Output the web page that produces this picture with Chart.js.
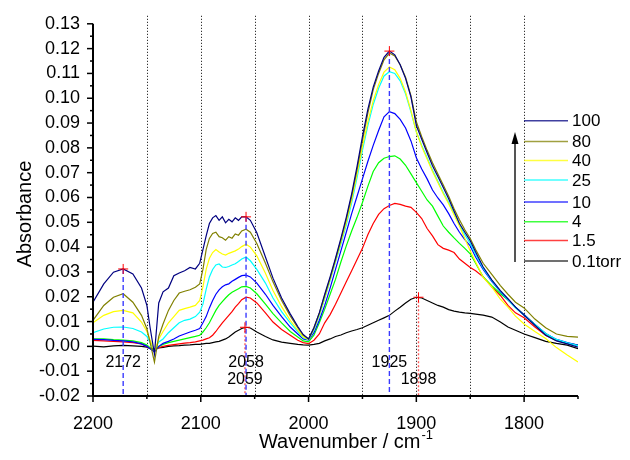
<!DOCTYPE html>
<html>
<head>
<meta charset="utf-8">
<script src="https://cdn.jsdelivr.net/npm/chart.js@4.4.1/dist/chart.umd.min.js"></script>
<style>
  html, body { margin: 0; padding: 0; background: #fff; }
  #wrap { width: 630px; height: 460px; }
</style>
</head>
<body>
<div id="wrap"><canvas id="chart" width="630" height="460"></canvas></div>
<script>
// wavenumber grid (cm-1) shared by all spectra
const wavenumbers = [2200, 2190, 2181, 2172, 2163, 2155, 2150, 2147, 2143, 2139, 2135, 2130, 2125, 2120, 2115, 2110, 2105, 2101,
  2098, 2095, 2092, 2089, 2086, 2083, 2080, 2077, 2074, 2071, 2068, 2065, 2062, 2058, 2054, 2048, 2040, 2033, 2025, 2017,
  2010, 2005, 2000, 1995, 1990, 1985, 1980, 1975, 1970, 1965, 1960, 1955, 1950, 1945, 1940, 1935, 1930, 1925, 1920, 1915,
  1910, 1905, 1900, 1895, 1890, 1885, 1880, 1875, 1870, 1865, 1860, 1855, 1850, 1845, 1838, 1830, 1822, 1815, 1808, 1800,
  1790, 1780, 1770, 1760, 1750];

const abs100 = [0.0178, 0.0252, 0.0299, 0.0312, 0.0292, 0.0235, 0.0165, 0.0075, -0.003, 0.0175, 0.022, 0.0235, 0.0285, 0.0296, 0.0305, 0.0318, 0.0312, 0.0335,
  0.039, 0.0445, 0.0495, 0.0518, 0.0527, 0.0508, 0.0522, 0.0498, 0.0512, 0.0502, 0.0518, 0.0508, 0.0522, 0.0522, 0.0508, 0.0458, 0.036, 0.0275, 0.0195, 0.0131,
  0.008, 0.0048, 0.003, 0.0075, 0.0135, 0.021, 0.028, 0.0355, 0.0435, 0.052, 0.0615, 0.0725, 0.0845, 0.0955, 0.1045, 0.111, 0.1165, 0.119, 0.1175, 0.1135,
  0.108, 0.1005, 0.089, 0.0835, 0.078, 0.0728, 0.0685, 0.064, 0.0595, 0.0545, 0.0495, 0.046, 0.0426, 0.038, 0.032, 0.0268, 0.0225, 0.0192, 0.0158, 0.0125,
  0.0085, 0.0045, 0.0022, 0.001, -0.0003];
const abs80 = [0.0105, 0.0165, 0.0198, 0.0212, 0.0178, 0.0125, 0.0071, 0.0015, -0.0063, 0.004, 0.009, 0.0145, 0.0185, 0.0215, 0.0222, 0.0228, 0.0238, 0.0252,
  0.031, 0.039, 0.0435, 0.0455, 0.046, 0.0442, 0.0438, 0.0428, 0.0442, 0.0436, 0.0453, 0.0448, 0.0465, 0.0472, 0.046, 0.0415, 0.0335, 0.026, 0.0185, 0.0123,
  0.0075, 0.0045, 0.003, 0.0075, 0.0135, 0.0205, 0.0275, 0.035, 0.0428, 0.0512, 0.0605, 0.0712, 0.083, 0.094, 0.1035, 0.11, 0.1155, 0.1182, 0.117, 0.1135,
  0.1085, 0.101, 0.0905, 0.0845, 0.079, 0.074, 0.0695, 0.065, 0.0605, 0.0555, 0.051, 0.047, 0.0435, 0.039, 0.0335, 0.029, 0.0245, 0.021, 0.0178, 0.0155,
  0.011, 0.0075, 0.005, 0.004, 0.0037];
const abs40 = [0.0095, 0.0125, 0.014, 0.0145, 0.0135, 0.0098, 0.006, 0.0025, -0.002, 0.003, 0.006, 0.0095, 0.012, 0.0145, 0.0152, 0.0158, 0.0165, 0.0185,
  0.024, 0.031, 0.0355, 0.0378, 0.039, 0.038, 0.0372, 0.0368, 0.0375, 0.038, 0.0385, 0.0392, 0.0402, 0.0412, 0.04, 0.0365, 0.0295, 0.0225, 0.016, 0.0105,
  0.0065, 0.0038, 0.0028, 0.007, 0.0128, 0.0198, 0.027, 0.0345, 0.042, 0.05, 0.059, 0.0695, 0.0805, 0.0905, 0.099, 0.1055, 0.1105, 0.1126, 0.1115, 0.108,
  0.1025, 0.095, 0.0865, 0.0805, 0.0755, 0.0705, 0.066, 0.0615, 0.0575, 0.053, 0.0485, 0.0435, 0.0385, 0.034, 0.0278, 0.024, 0.019, 0.0158, 0.0122, 0.009,
  0.006, 0.0032, -0.0005, -0.0035, -0.0063];
const abs25 = [0.0055, 0.007, 0.0077, 0.0078, 0.0072, 0.0058, 0.004, 0.0015, -0.0015, 0.0018, 0.003, 0.0055, 0.0075, 0.0095, 0.0105, 0.011, 0.012, 0.0138,
  0.017, 0.023, 0.028, 0.031, 0.0328, 0.0332, 0.032, 0.0318, 0.0322, 0.0328, 0.0333, 0.0342, 0.0352, 0.036, 0.0345, 0.031, 0.0255, 0.0195, 0.014, 0.0095,
  0.006, 0.0035, 0.0027, 0.0065, 0.0123, 0.0193, 0.0265, 0.034, 0.0412, 0.049, 0.0578, 0.068, 0.079, 0.089, 0.0975, 0.104, 0.109, 0.1107, 0.11, 0.107,
  0.1018, 0.0945, 0.0865, 0.081, 0.076, 0.071, 0.0665, 0.062, 0.058, 0.0535, 0.049, 0.045, 0.0415, 0.037, 0.0315, 0.0265, 0.0222, 0.0188, 0.0155, 0.0125,
  0.0088, 0.0052, 0.0028, 0.0014, 0.0003];
const abs10 = [0.0028, 0.0027, 0.0024, 0.0022, 0.0018, 0.001, 0.0, -0.001, -0.0022, 0.0, 0.0012, 0.002, 0.003, 0.0042, 0.005, 0.0058, 0.0065, 0.0072,
  0.0095, 0.012, 0.0155, 0.0185, 0.021, 0.0228, 0.024, 0.0248, 0.0252, 0.0262, 0.027, 0.0278, 0.0285, 0.0287, 0.028, 0.0255, 0.021, 0.0165, 0.012, 0.0078,
  0.005, 0.003, 0.0025, 0.0055, 0.0105, 0.0165, 0.0235, 0.031, 0.0385, 0.046, 0.0535, 0.0605, 0.0675, 0.0745, 0.081, 0.087, 0.0925, 0.0946, 0.0938, 0.0915,
  0.088, 0.0828, 0.076, 0.0715, 0.0675, 0.063, 0.0598, 0.057, 0.0535, 0.0495, 0.046, 0.043, 0.0405, 0.036, 0.031, 0.0262, 0.022, 0.0188, 0.0158, 0.0128,
  0.0088, 0.0052, 0.0028, 0.0015, 0.0005];
const abs4 = [0.003, 0.003, 0.0027, 0.0025, 0.0022, 0.0015, 0.0005, -0.0005, -0.0018, 0.0, 0.0008, 0.0015, 0.002, 0.0025, 0.003, 0.0035, 0.004, 0.0045,
  0.0058, 0.0075, 0.0095, 0.012, 0.0145, 0.0165, 0.018, 0.0195, 0.0208, 0.0218, 0.0225, 0.0232, 0.024, 0.0242, 0.0235, 0.0212, 0.017, 0.0132, 0.0095, 0.006,
  0.0038, 0.0022, 0.0018, 0.0045, 0.0095, 0.015, 0.021, 0.027, 0.034, 0.0405, 0.0465, 0.052, 0.058, 0.0645, 0.0705, 0.074, 0.0758, 0.0765, 0.0768, 0.0755,
  0.073, 0.0695, 0.066, 0.0625, 0.059, 0.0565, 0.0525, 0.0485, 0.046, 0.0437, 0.0415, 0.0395, 0.0373, 0.0335, 0.028, 0.0245, 0.0212, 0.0188, 0.0158, 0.0128,
  0.0088, 0.005, 0.0026, 0.0013, 0.0005];
const abs1p5 = [0.0024, 0.0022, 0.002, 0.0018, 0.0015, 0.001, 0.0, -0.0008, -0.0015, -0.0005, 0.0, 0.0004, 0.0007, 0.001, 0.0013, 0.0015, 0.0018, 0.0022,
  0.0025, 0.003, 0.0035, 0.0045, 0.006, 0.0078, 0.0095, 0.011, 0.0125, 0.014, 0.0158, 0.0172, 0.0188, 0.0198, 0.0195, 0.0175, 0.0135, 0.0098, 0.0068, 0.0045,
  0.0025, 0.0015, 0.0011, 0.0025, 0.005, 0.0095, 0.0128, 0.017, 0.0215, 0.026, 0.0305, 0.035, 0.0395, 0.045, 0.0495, 0.0532, 0.0555, 0.0568, 0.0576, 0.0572,
  0.0565, 0.056, 0.054, 0.0515, 0.0475, 0.0445, 0.041, 0.0395, 0.0388, 0.0378, 0.0352, 0.0335, 0.0318, 0.0305, 0.028, 0.024, 0.0205, 0.0165, 0.0135, 0.0115,
  0.0078, 0.0045, 0.0024, 0.0012, 0.0005];
const abs0p1 = [0.0001, -0.0002, 0.0002, 0.0004, 0.0002, 0.0, -0.0003, -0.0008, -0.001, -0.0006, -0.0004, 0.0, 0.0002, 0.0003, 0.0005, 0.0006, 0.0008, 0.0008,
  0.001, 0.0012, 0.0012, 0.0015, 0.0018, 0.002, 0.0025, 0.003, 0.0038, 0.0048, 0.0058, 0.0065, 0.0072, 0.0077, 0.0074, 0.0058, 0.004, 0.0026, 0.0017, 0.0012,
  0.0008, 0.0006, 0.0005, 0.0008, 0.0012, 0.0022, 0.003, 0.004, 0.0046, 0.0055, 0.0062, 0.0068, 0.0075, 0.0085, 0.0095, 0.0105, 0.0115, 0.0125, 0.0142, 0.0158,
  0.0175, 0.019, 0.0198, 0.0195, 0.0185, 0.0175, 0.0165, 0.0158, 0.0148, 0.0142, 0.0138, 0.0135, 0.0133, 0.013, 0.0126, 0.0118, 0.0098, 0.0078, 0.0065, 0.005,
  0.0035, 0.002, 0.0012, 0.0005, -0.0009];

const seriesLabels = ['100', '80', '40', '25', '10', '4', '1.5', '0.1torr'];
const seriesValues = [abs100, abs80, abs40, abs25, abs10, abs4, abs1p5, abs0p1];
const seriesColors = ['#000080', '#808000', '#ffff00', '#00ffff', '#0000ff', '#00ff00', '#ff0000', '#000000'];

const xTicks = [2200, 2100, 2000, 1900, 1800];
const xGrid = [2150, 2100, 2050, 2000, 1950, 1900, 1850, 1800];
const yTicks = [-0.02, -0.01, 0, 0.01, 0.02, 0.03, 0.04, 0.05, 0.06, 0.07, 0.08, 0.09, 0.10, 0.11, 0.12, 0.13];

// marked peaks: blue dashed (upper label row), red dotted (lower label row)
const bluePeaks = [2172, 2058, 1925];
const bluePeakValues = [0.0312, 0.0522, 0.119];
const redPeaks = [2059, 1898];
const redPeakValues = [0.0077, 0.0198];

const FONT = '"Liberation Sans", Arial, sans-serif';
const legendRows = [120.7, 141.5, 160.5, 180, 202, 221.7, 240.5, 261];

const datasets = seriesLabels.map((label, i) => ({
  label,
  data: wavenumbers.map((w, j) => ({ x: w, y: seriesValues[i][j] })),
  borderColor: seriesColors[i],
  borderWidth: 1.2,
  pointRadius: 0,
  tension: 0,
  fill: false
}));

bluePeaks.forEach((p, i) => datasets.push({
  label: 'peak ' + p,
  data: [{ x: p, y: bluePeakValues[i] }, { x: p, y: -0.02 }],
  borderColor: '#3a3aff', borderWidth: 1.4, borderDash: [5, 3],
  pointRadius: 0, order: -1
}));
redPeaks.forEach((p, i) => datasets.push({
  label: 'peak ' + p,
  data: [{ x: p, y: redPeakValues[i] }, { x: p, y: -0.02 }],
  borderColor: '#ff5a5a', borderWidth: 1.4, borderDash: [2, 2],
  pointRadius: 0, order: -1
}));
datasets.push({
  label: 'markers',
  data: bluePeaks.map((p, i) => ({ x: p, y: bluePeakValues[i] }))
    .concat(redPeaks.map((p, i) => ({ x: p, y: redPeakValues[i] }))),
  showLine: false,
  pointStyle: 'cross', pointRadius: 5, pointBorderColor: '#ff0000', pointBorderWidth: 1,
  borderColor: '#ff0000', order: -2
});

const decorations = {
  id: 'decorations',
  beforeDatasetsDraw(chart) {
    const { ctx, chartArea, scales: { x } } = chart;
    ctx.save();
    ctx.strokeStyle = '#000';
    ctx.lineWidth = 1;
    ctx.setLineDash([1, 2]);
    xGrid.forEach(v => {
      const px = Math.round(x.getPixelForValue(v)) + 0.5;
      ctx.beginPath();
      ctx.moveTo(px, chartArea.top - 8);
      ctx.lineTo(px, chartArea.bottom);
      ctx.stroke();
    });
    ctx.restore();
  },
  afterDraw(chart) {
    const { ctx, chartArea, scales: { x, y } } = chart;
    const left = chartArea.left, bottom = chartArea.bottom;
    ctx.save();
    // axes
    ctx.strokeStyle = '#000';
    ctx.lineWidth = 2;
    ctx.beginPath();
    ctx.moveTo(left, y.getPixelForValue(0.13));
    ctx.lineTo(left, bottom);
    ctx.lineTo(chartArea.right, bottom);
    ctx.stroke();
    ctx.lineWidth = 1.5;
    yTicks.forEach((v, i) => {
      const py = y.getPixelForValue(v);
      ctx.beginPath(); ctx.moveTo(left, py); ctx.lineTo(left - 6, py); ctx.stroke();
      if (i < yTicks.length - 1) {
        const pm = y.getPixelForValue(v + 0.005);
        ctx.beginPath(); ctx.moveTo(left, pm); ctx.lineTo(left - 3, pm); ctx.stroke();
      }
    });
    xTicks.forEach(v => {
      const px = x.getPixelForValue(v);
      ctx.beginPath(); ctx.moveTo(px, bottom); ctx.lineTo(px, bottom + 6); ctx.stroke();
      const pm = x.getPixelForValue(v - 50);
      ctx.beginPath(); ctx.moveTo(pm, bottom); ctx.lineTo(pm, bottom + 3); ctx.stroke();
    });

    // peak labels
    ctx.fillStyle = '#000';
    ctx.font = '16px ' + FONT;
    ctx.textAlign = 'center';
    ctx.textBaseline = 'middle';
    bluePeaks.forEach(p => ctx.fillText(String(p), x.getPixelForValue(p), y.getPixelForValue(-0.0065)));
    redPeaks.forEach(p => ctx.fillText(String(p), x.getPixelForValue(p), y.getPixelForValue(-0.0135)));

    // legend
    ctx.font = '17px ' + FONT;
    ctx.textAlign = 'left';
    seriesLabels.forEach((label, i) => {
      const ly = legendRows[i];
      ctx.strokeStyle = seriesColors[i];
      ctx.globalAlpha = 0.75;
      ctx.lineWidth = 1.5;
      ctx.beginPath(); ctx.moveTo(524, ly); ctx.lineTo(568, ly); ctx.stroke();
      ctx.globalAlpha = 1;
      ctx.fillText(label, 572, ly + 1);
    });
    // pressure arrow
    ctx.strokeStyle = '#555';
    ctx.lineWidth = 2;
    ctx.beginPath(); ctx.moveTo(515, 262); ctx.lineTo(515, 142); ctx.stroke();
    ctx.fillStyle = '#000';
    ctx.beginPath(); ctx.moveTo(515, 132); ctx.lineTo(511.5, 144); ctx.lineTo(518.5, 144); ctx.closePath(); ctx.fill();

    // axis titles
    ctx.fillStyle = '#000';
    ctx.font = '20px ' + FONT;
    ctx.textAlign = 'center';
    ctx.save();
    ctx.translate(25, 214);
    ctx.rotate(-Math.PI / 2);
    ctx.fillText('Absorbance', 0, 0);
    ctx.restore();
    const main = 'Wavenumber / cm';
    const w1 = ctx.measureText(main).width;
    ctx.font = '13px ' + FONT;
    const w2 = ctx.measureText('-1').width;
    const cx = (left + chartArea.right) / 2 + 10;
    const sx = cx - (w1 + w2) / 2;
    ctx.textAlign = 'left';
    ctx.textBaseline = 'alphabetic';
    ctx.font = '20px ' + FONT;
    ctx.fillText(main, sx, 448);
    ctx.font = '13px ' + FONT;
    ctx.fillText('-1', sx + w1 + 1, 439);
    ctx.restore();
  }
};

new Chart(document.getElementById('chart'), {
  type: 'line',
  data: { datasets },
  plugins: [decorations],
  options: {
    responsive: false,
    animation: false,
    layout: { padding: { left: 0, top: 23, right: 52, bottom: 0 } },
    plugins: { legend: { display: false }, tooltip: { enabled: false } },
    scales: {
      x: {
        type: 'linear',
        min: 1750,
        max: 2200,
        reverse: true,
        grid: { display: false, drawTicks: false },
        border: { display: false },
        afterBuildTicks: s => { s.ticks = xTicks.map(v => ({ value: v })); },
        afterFit: s => { s.height = 64; },
        ticks: { color: '#000', padding: 17, font: { family: FONT, size: 18 }, callback: v => String(v) }
      },
      y: {
        min: -0.02,
        max: 0.13,
        grid: { display: false, drawTicks: false },
        border: { display: false },
        afterBuildTicks: s => { s.ticks = yTicks.map(v => ({ value: v })); },
        afterFit: s => { s.width = 93; },
        ticks: { color: '#000', padding: 13, font: { family: FONT, size: 18 }, callback: v => v.toFixed(2) }
      }
    }
  }
});
</script>
</body>
</html>
